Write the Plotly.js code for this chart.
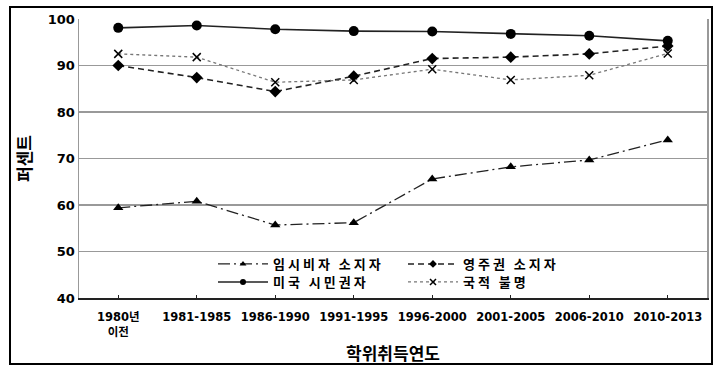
<!DOCTYPE html>
<html>
<head>
<meta charset="utf-8">
<script src="https://cdn.plot.ly/plotly-3.0.1.min.js"></script>
<style>
html,body{margin:0;padding:0;background:#fff;}
#chart{width:721px;height:376px;}
#chart g[class^="legend"] text, #chart text.legendtext{letter-spacing:3px !important;}
</style>
</head>
<body>
<div id="chart"></div>
<script>
const categories = ['1980년<br>이전','1981-1985','1986-1990','1991-1995','1996-2000','2001-2005','2006-2010','2010-2013'];
const seriesNames = ['임시비자 소지자','영주권 소지자','미국 시민권자','국적 불명'];
const temporaryVisa = [59.4, 60.8, 55.7, 56.2, 65.6, 68.2, 69.7, 74.0];
const permanentResident = [90.0, 87.4, 84.4, 87.7, 91.5, 91.8, 92.5, 94.2];
const usCitizen = [98.1, 98.6, 97.8, 97.4, 97.3, 96.8, 96.4, 95.3];
const unknownCitizenship = [92.5, 91.8, 86.4, 86.9, 89.2, 86.9, 87.9, 92.6];
const yTicks = [40, 50, 60, 70, 80, 90, 100];

const M = {l:79, r:14, t:19, b:78};
const W = 721, H = 376;
const pw = W - M.l - M.r, ph = H - M.t - M.b;
const px = v => (v - M.l) / pw;
const py = v => (H - M.b - v) / ph;

const styles = [
  {line: {color: '#222', width: 1.3, dash: '12px,4px,2px,4px'}, symbol: 'triangle-up', size: 9, lsize: 6},
  {line: {color: '#222', width: 1.6, dash: '6px,4px'}, symbol: 'diamond', size: 9, lsize: 6},
  {line: {color: '#222', width: 1.6}, symbol: 'circle', size: 10, lsize: 6},
  {line: {color: '#777', width: 1.3, dash: 'dot'}, symbol: 'x-thin-open', size: 8, lsize: 6}
];
const dataSets = [temporaryVisa, permanentResident, usCitizen, unknownCitizenship];
const legendIds = ['legend', 'legend', 'legend2', 'legend2'];

const traces = [];
dataSets.forEach((ys, i) => {
  const s = styles[i];
  const mk = sz => ({symbol: s.symbol, size: sz, color: '#000', line: {width: s.symbol === 'x-thin-open' ? 1.5 : 0, color: '#333'}});
  traces.push({x: categories, y: ys, name: seriesNames[i], type: 'scatter', mode: 'lines+markers',
    line: s.line, marker: mk(s.size), showlegend: false});
  // legend proxy (no data points), smaller symbol like the reference legend
  traces.push({x: [null], y: [null], name: seriesNames[i], type: 'scatter', mode: 'lines+markers',
    line: s.line, marker: mk(s.lsize), showlegend: true, legend: legendIds[i]});
});

const legendBase = {
  orientation: 'h', xanchor: 'left', yanchor: 'middle',
  entrywidth: 125, entrywidthmode: 'pixels',
  font: {family: 'Noto Sans CJK KR', size: 13, color: '#000', weight: 'bold'},
  bgcolor: 'rgba(0,0,0,0)', itemwidth: 50
};

const layout = {
  width: W, height: H,
  margin: M,
  paper_bgcolor: '#fff', plot_bgcolor: '#fff',
  showlegend: true,
  legend: Object.assign({}, legendBase, {x: px(213), y: py(264)}),
  legend2: Object.assign({}, legendBase, {x: px(213), y: py(282)}),
  xaxis: {
    type: 'category', range: [-0.5, 7.5],
    showline: true, linecolor: '#222', linewidth: 2,
    ticks: 'inside', ticklen: 3, tickcolor: '#222',
    showgrid: false, zeroline: false, ticklabelstandoff: 7,
    tickfont: {family: 'DejaVu Sans, Noto Sans CJK KR', size: 11.5, color: '#000', weight: 'bold'},
    title: {text: '학위취득연도', font: {family: 'Noto Sans CJK KR', size: 17, color: '#000', weight: 'bold'}, standoff: 10}
  },
  yaxis: {
    range: [40, 100], tickvals: yTicks,
    showline: true, linecolor: '#999', linewidth: 1.5, mirror: true,
    showgrid: true, gridcolor: '#999', gridwidth: 1.5,
    ticks: '', zeroline: false,
    tickfont: {family: 'DejaVu Sans', size: 13, color: '#000', weight: 'bold'},
    title: {text: '퍼센트', font: {family: 'Noto Sans CJK KR', size: 17, color: '#000', weight: 'bold'}, standoff: 12}
  },
  shapes: [
    {type: 'rect', xref: 'paper', yref: 'paper', x0: px(10), x1: px(712), y0: py(364), y1: py(7),
     line: {color: '#000', width: 2}, fillcolor: 'rgba(0,0,0,0)', layer: 'below'}
  ]
};

function spaceLegend(gd) {
  gd.querySelectorAll('g[class^="legend"] text, text.legendtext').forEach(t => {
    t.style.letterSpacing = '3px';
    t.setAttribute('letter-spacing', '3px');
  });
}
Plotly.newPlot('chart', traces, layout, {displayModeBar: false, staticPlot: true}).then(gd => {
  spaceLegend(gd);
  setTimeout(() => spaceLegend(gd), 300);
});
</script>
</body>
</html>
